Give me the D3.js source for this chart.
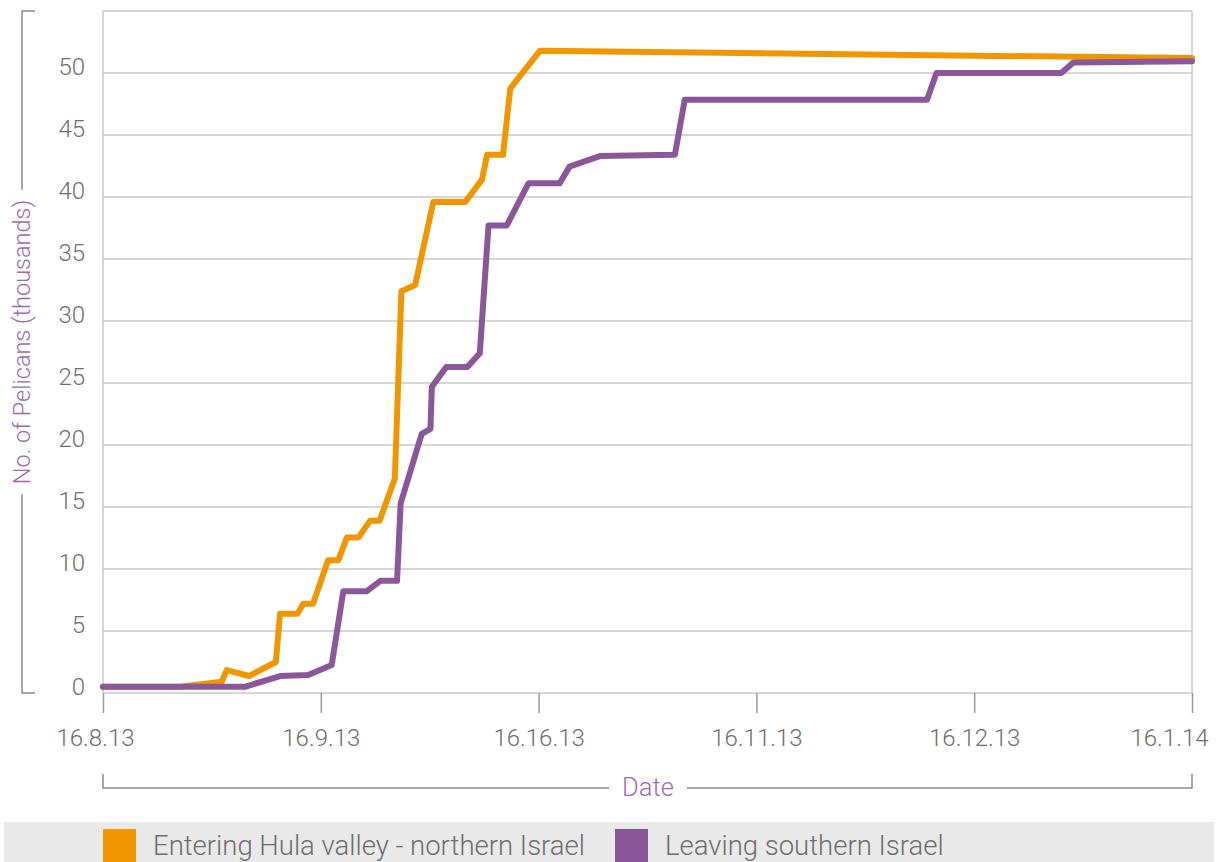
<!DOCTYPE html>
<html>
<head>
<meta charset="utf-8">
<script src="https://cdn.jsdelivr.net/npm/d3@7"></script>
<style>
  body { margin: 0; background: #fff; }
  text { font-family: Roboto, "Open Sans", sans-serif; font-weight: 300; }
</style>
</head>
<body>
<script>
// tick positions: days after 16.8.13, and their labels (as printed in the original)
const tickDays = [0, 31, 61, 92, 122, 153];
const tickLabels = ["16.8.13", "16.9.13", "16.16.13", "16.11.13", "16.12.13", "16.1.14"];
const yTicks = [0, 5, 10, 15, 20, 25, 30, 35, 40, 45, 50];

// Entering Hula valley - northern Israel (day, thousands)
const hulaDays = [0, 11, 16.9, 17.6, 20.8, 24.6, 25.2, 27.7, 28.5, 29.9, 32.0, 33.4, 34.6, 36.2, 37.8, 39.1, 41.2, 42.1, 44.0, 46.5, 50.9, 53.2, 53.9, 56.1, 57.1, 61.2, 153];
const hulaVals = [0.5, 0.5, 0.9, 1.85, 1.37, 2.5, 6.4, 6.4, 7.2, 7.2, 10.7, 10.7, 12.55, 12.55, 13.9, 13.9, 17.3, 32.4, 32.9, 39.6, 39.6, 41.4, 43.4, 43.4, 48.75, 51.8, 51.2];

// Leaving southern Israel
const southDays = [0, 20.2, 25.2, 29.2, 32.5, 34.1, 37.3, 39.2, 41.5, 42.0, 44.9, 46.1, 46.3, 48.3, 51.2, 52.9, 54.1, 56.6, 59.6, 64.0, 65.4, 69.7, 80.4, 81.8, 115.5, 116.8, 134.4, 136.1, 153];
const southVals = [0.5, 0.5, 1.37, 1.45, 2.26, 8.2, 8.2, 9.05, 9.05, 15.3, 20.9, 21.3, 24.7, 26.3, 26.3, 27.4, 37.7, 37.7, 41.1, 41.1, 42.45, 43.3, 43.4, 47.85, 47.85, 50.0, 50.0, 50.85, 50.95];

const seriesNames = ["Entering Hula valley - northern Israel", "Leaving southern Israel"];
const colors = ["#ef9601", "#8b579b"];

const W = 1222, H = 862;
const mLeft = 103, mRight = 1192, mTop = 11, mBottom = 693;

const svg = d3.select("body").append("svg")
  .attr("width", W)
  .attr("height", H);

// months are drawn equally spaced
const x = d3.scaleLinear()
  .domain(tickDays)
  .range(tickDays.map((d, i) => mLeft + i * (mRight - mLeft) / 5));
const y = d3.scaleLinear().domain([0, 55]).range([mBottom, mTop]);

// grid lines + frame
svg.append("g")
  .selectAll("line")
  .data(d3.range(0, 60, 5))
  .join("line")
  .attr("x1", mLeft).attr("x2", mRight)
  .attr("y1", d => y(d)).attr("y2", d => y(d))
  .attr("stroke", "#c9c9c9")
  .attr("stroke-width", 1.5);

svg.append("g")
  .selectAll("line")
  .data([mLeft, mRight])
  .join("line")
  .attr("x1", d => d).attr("x2", d => d)
  .attr("y1", mTop).attr("y2", mBottom)
  .attr("stroke", "#c9c9c9")
  .attr("stroke-width", 1.5);

// x axis
const xAxis = svg.append("g")
  .attr("transform", `translate(0,${mBottom})`)
  .call(d3.axisBottom(x)
    .tickValues(tickDays)
    .tickFormat((d, i) => tickLabels[i])
    .tickSize(20)
    .tickPadding(16));
xAxis.select(".domain").remove();
xAxis.selectAll(".tick line").attr("stroke", "#9a9a9a").attr("stroke-width", 1.5);
xAxis.selectAll(".tick text")
  .attr("fill", "#6e6e6e")
  .style("font-size", "24px")
  .attr("dx", (d, i) => i === 0 ? -8 : (i === tickDays.length - 1 ? -23 : 0));

// y axis
const yAxis = svg.append("g")
  .attr("transform", `translate(${mLeft},0)`)
  .call(d3.axisLeft(y).tickValues(yTicks).tickSize(0).tickPadding(18));
yAxis.select(".domain").remove();
yAxis.selectAll(".tick text")
  .attr("fill", "#6e6e6e")
  .attr("dy", 1)
  .style("font-size", "24px");

// lines
const line = d3.line().x(d => x(d[0])).y(d => y(d[1]));
const series = [d3.zip(hulaDays, hulaVals), d3.zip(southDays, southVals)];

svg.append("g")
  .selectAll("path")
  .data(series)
  .join("path")
  .attr("d", line)
  .attr("fill", "none")
  .attr("stroke", (d, i) => colors[i])
  .attr("stroke-width", 6)
  .attr("stroke-linejoin", "round")
  .attr("stroke-linecap", "round");

// y title with bracket
const yTitleX = 22, yTitleC = 342;
const yTitle = svg.append("text")
  .attr("transform", `translate(${yTitleX + 8},${yTitleC}) rotate(-90)`)
  .attr("text-anchor", "middle")
  .attr("fill", "#9e69b2")
  .style("font-size", "23.5px")
  .text("No. of Pelicans (thousands)");
const yHalf = yTitle.node().getComputedTextLength() / 2 + 10;
svg.append("path")
  .attr("d", `M${yTitleX + 13},${mTop}H${yTitleX}V${yTitleC - yHalf}M${yTitleX},${yTitleC + yHalf}V${mBottom}H${yTitleX + 13}`)
  .attr("fill", "none")
  .attr("stroke", "#8a8a8a")
  .attr("stroke-width", 1.5);

// x title with bracket
const xTitleY = 788, xTitleC = 648;
const xTitle = svg.append("text")
  .attr("x", xTitleC).attr("y", xTitleY + 8)
  .attr("text-anchor", "middle")
  .attr("fill", "#9e69b2")
  .style("font-size", "25.5px")
  .text("Date");
const xHalf = xTitle.node().getComputedTextLength() / 2 + 13;
svg.append("path")
  .attr("d", `M${mLeft},${xTitleY - 14}V${xTitleY}H${xTitleC - xHalf}M${xTitleC + xHalf},${xTitleY}H${mRight}V${xTitleY - 14}`)
  .attr("fill", "none")
  .attr("stroke", "#8a8a8a")
  .attr("stroke-width", 1.5);

// legend
svg.append("rect")
  .attr("x", 4).attr("y", 822)
  .attr("width", 1210).attr("height", 50)
  .attr("fill", "#e9e9e9");

const legend = svg.append("g")
  .selectAll("g")
  .data(seriesNames)
  .join("g")
  .attr("transform", (d, i) => `translate(${[103, 615][i]},829)`);
legend.append("rect")
  .attr("width", 33).attr("height", 40)
  .attr("fill", (d, i) => colors[i]);
legend.append("text")
  .attr("x", 50).attr("y", 25.5)
  .attr("fill", "#6e6e6e")
  .style("font-size", "27.5px")
  .text(d => d);
</script>
</body>
</html>
